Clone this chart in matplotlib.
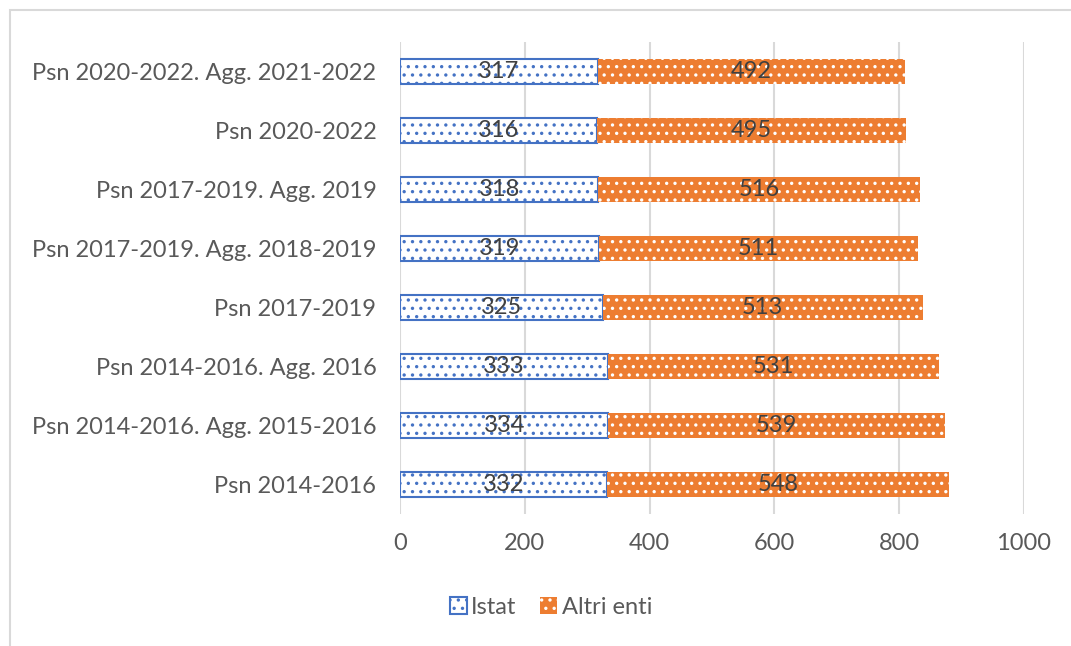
import matplotlib.pyplot as plt
import numpy as np

plt.rcParams['font.family'] = ['Lato', 'DejaVu Sans']
plt.rcParams['hatch.linewidth'] = 1.2

# data, bottom to top
categories = ['Psn 2014-2016', 'Psn 2014-2016. Agg. 2015-2016', 'Psn 2014-2016. Agg. 2016',
              'Psn 2017-2019', 'Psn 2017-2019. Agg. 2018-2019', 'Psn 2017-2019. Agg. 2019',
              'Psn 2020-2022', 'Psn 2020-2022. Agg. 2021-2022']
istat = [332, 334, 333, 325, 319, 318, 316, 317]
altri = [548, 539, 531, 513, 511, 516, 495, 492]
xticks = [0, 200, 400, 600, 800, 1000]

blue = '#4472C4'
orange = '#ED7D31'
txt = '#404040'

fig = plt.figure(figsize=(10.71, 6.46), dpi=100)
ax = fig.add_axes([400 / 1071, 1 - 514 / 646, 624 / 1071, 472 / 646])

y = np.arange(len(categories))
b1 = ax.barh(y, istat, height=0.42, color='white', edgecolor=blue, hatch='..',
             linewidth=1.5, label='Istat', zorder=3)
b2 = ax.barh(y, altri, left=istat, height=0.42, color=orange, edgecolor='white',
             hatch='..', linewidth=0, label='Altri enti', zorder=3)

for i in range(len(categories)):
    ax.text(istat[i] / 2, y[i], str(istat[i]), ha='center', va='center',
            fontsize=17, color=txt, zorder=4)
    ax.text(istat[i] + altri[i] / 2, y[i], str(altri[i]), ha='center', va='center',
            fontsize=17, color=txt, zorder=4)

ax.set_xlim(0, 1000)
ax.set_ylim(-0.5, len(categories) - 0.5)
ax.set_xticks(xticks)
ax.set_yticks(y)
ax.set_yticklabels(categories)
ax.tick_params(axis='both', length=0, labelsize=17, labelcolor='#595959')
ax.tick_params(axis='x', pad=14)
ax.tick_params(axis='y', pad=17)
ax.grid(axis='x', color='#D9D9D9', linewidth=1.5, zorder=0)
for s in ax.spines.values():
    s.set_visible(False)

leg = fig.legend(handles=[b1, b2], loc='center', bbox_to_anchor=(551 / 1071, 1 - 607 / 646),
                 ncol=2, frameon=False, fontsize=17, handlelength=0.7, handleheight=0.7,
                 handletextpad=0.2, columnspacing=1.0, labelcolor='#595959')

# chart border
fig.patches.append(plt.Rectangle((10 / 1071, -0.1), 1.1, 1 - 10 / 646 + 0.1,
                                 transform=fig.transFigure, fill=False,
                                 edgecolor='#D9D9D9', linewidth=1.5))

fig.savefig('out.png', dpi=100)
